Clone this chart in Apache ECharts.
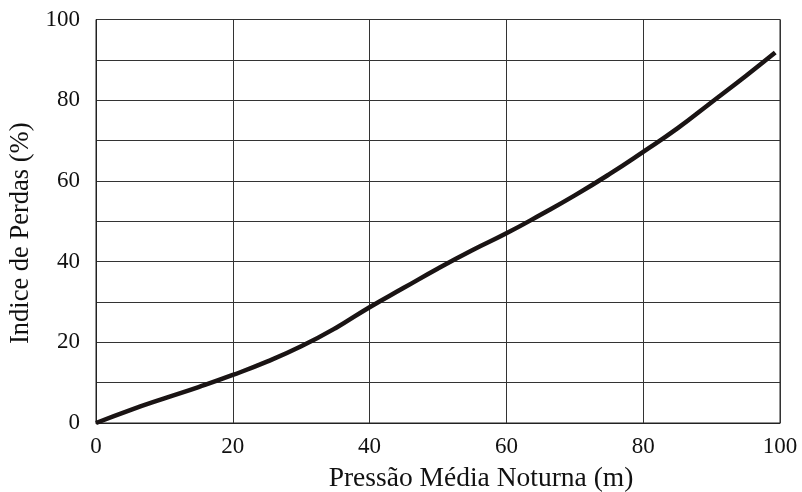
<!DOCTYPE html>
<html>
<head>
<meta charset="utf-8">
<script src="https://cdn.jsdelivr.net/npm/echarts@6/dist/echarts.min.js"></script>
<style>html,body{margin:0;padding:0;background:#fff}#c{width:802px;height:492px}</style>
</head>
<body>
<div id="c"></div>
<script>
const pressao = [0,5,10,15,20,25,30,35,40,45,50,55,60,65,70,75,80,85,90,95,99.3];
const indicePerdas = [0,3.2,6.1,8.9,11.9,15.2,19.0,23.5,28.7,33.5,38.3,42.8,47.0,51.6,56.4,61.6,67.2,73.0,79.5,86.0,91.8];
const xTitle = 'Pressão Média Noturna (m)';
const yTitle = 'Indice de Perdas (%)';

const font = 'Liberation Serif';
const chart = echarts.init(document.getElementById('c'));
chart.setOption({
  animation: false,
  backgroundColor: '#fff',
  grid: {left: 96, right: 22, top: 19.5, bottom: 69, show: true, borderColor: '#222', borderWidth: 1,
    containLabel: false, outerBoundsMode: 'none'},
  xAxis: {
    type: 'value', min: 0, max: 100, interval: 20,
    name: xTitle, nameLocation: 'middle', nameGap: 42,
    nameTextStyle: {fontFamily: font, fontSize: 27.5, color: '#111', padding: [0, 0, 0, 86]},
    axisLine: {show: true, lineStyle: {color: '#222', width: 1}},
    axisTick: {show: false},
    axisLabel: {fontFamily: font, fontSize: 23, color: '#111', margin: 12},
    splitLine: {show: true, lineStyle: {color: '#333', width: 1}}
  },
  yAxis: {
    type: 'value', min: 0, max: 100, interval: 10,
    name: yTitle, nameLocation: 'middle', nameGap: 60,
    nameTextStyle: {fontFamily: font, fontSize: 26.5, color: '#111', padding: [0, 24, 0, 0]},
    axisLine: {show: true, lineStyle: {color: '#222', width: 1}},
    axisTick: {show: false},
    axisLabel: {fontFamily: font, fontSize: 23, color: '#111', margin: 16,
      formatter: v => (v % 20 === 0 ? String(v) : '')},
    splitLine: {show: true, lineStyle: {color: '#333', width: 1}}
  },
  series: [{
    type: 'line', smooth: true, symbol: 'none',
    data: pressao.map((x, i) => [x, indicePerdas[i]]),
    lineStyle: {color: '#1a1414', width: 4.5}
  }]
});
</script>
</body>
</html>
